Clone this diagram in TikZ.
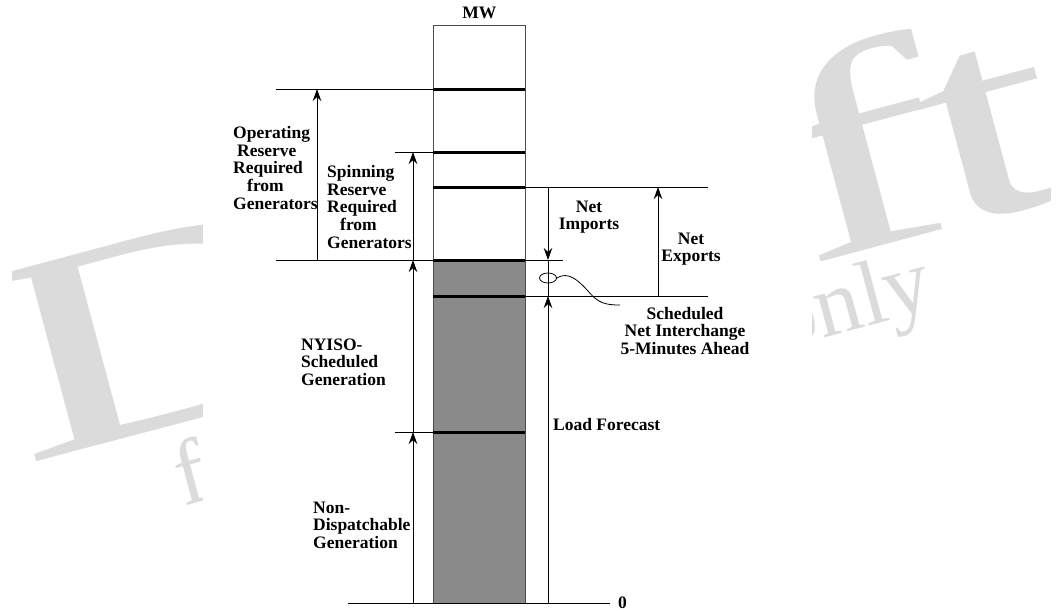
\documentclass[tikz,border=0pt]{standalone}
\usepackage{fontspec}
\setmainfont{Liberation Serif}
\usetikzlibrary{arrows.meta, positioning, shapes.geometric}
\definecolor{hatchgray}{gray}{0.54}
\definecolor{markgray}{gray}{0.86}

\begin{document}
\begin{tikzpicture}[
  x=1pt, y=-1pt,
  every node/.style={font=\fontsize{17.5}{17.6}\selectfont\bfseries, inner sep=0pt},
  lbl/.style={align=left, anchor=west},
  mid/.style={align=center},
  level/.style={line width=3pt},
  guide/.style={line width=0.8pt},
  arr/.style={-{Stealth[length=12pt, width=8.5pt]}, line width=0.8pt},
  bigmark/.style={text=markgray, font=\fontsize{290}{290}\selectfont, anchor=base west, rotate=15},
  smallmark/.style={text=markgray, font=\fontsize{92}{92}\selectfont, anchor=base west, rotate=15}
]
\useasboundingbox (0,0) rectangle (1057,611);

% watermark behind the chart
\begin{scope}
  \clip (12,0) rectangle (1050,611);
  \node[bigmark] (wmd) at (22,466) {\scalebox{1.75}[1]{D}};
  \node[bigmark] (wmft) at (800,268) {\scalebox{1.75}[1]{f\kern-12pt t}};
  \node[smallmark] (wmf) at (183,507) {f};
  \node[smallmark] (wmonly) at (778,350) {only};
\end{scope}
\fill[white] (203,0) rectangle (812,611);

% levels on the column
\foreach \name/\y in {op/89, sp/152, ni/187, lf/260, sn/296, nd/432, zero/603}
  \coordinate (\name) at (433,\y);
\coordinate (colbr) at (525,603);

% x positions of guides and arrows
\coordinate (xa) at (276,0);
\coordinate (xb) at (395,0);
\coordinate (xz) at (348,0);
\coordinate (xe) at (610,0);
\coordinate (xr) at (708,0);
\coordinate (xs) at (563,0);
\coordinate (xop) at (317,0);
\coordinate (xsp) at (413,0);
\coordinate (xin) at (548,0);
\coordinate (xex) at (658,0);
\coordinate (zend) at (xe |- zero);

% column
\fill[hatchgray] (lf) rectangle (colbr);
\node[draw=black!70, line width=0.8pt, minimum width=92pt, minimum height=578pt, anchor=north west] (col) at (433,25) {};
\foreach \lv in {op, sp, ni, lf, sn, nd}
  \draw[level] (\lv) -- (\lv -| colbr);

% guides
\draw[guide] (xa |- op) -- (op);
\draw[guide] (xb |- sp) -- (sp);
\draw[guide] (xa |- lf) -- (lf);
\draw[guide] (xb |- nd) -- (nd);
\draw[guide] (xz |- zero) -- (zend);
\draw[guide] (ni -| colbr) -- (xr |- ni);
\draw[guide] (sn -| colbr) -- (xr |- sn);
\draw[guide] (lf -| colbr) -- (xs |- lf);

% arrows
\draw[arr] (xop |- lf) -- (xop |- op);
\draw[arr] (xsp |- lf) -- (xsp |- sp);
\draw[arr] (xsp |- nd) -- (xsp |- lf);
\draw[arr] (xsp |- zero) -- (xsp |- nd);
\draw[arr] (xin |- ni) -- (xin |- lf);
\draw[arr] (xin |- zero) -- (xin |- sn);
\draw[guide] (xin |- lf) -- (xin |- sn);
\draw[arr] (xex |- sn) -- (xex |- ni);

% interchange marker
\node[draw, ellipse, line width=0.8pt, minimum width=17pt, minimum height=10pt] (sni) at (548,278) {};
\coordinate (lead) at (620,305);
\draw[guide] (sni.east) .. controls (568,271) and (578,280) .. (588,291)
  .. controls (598,303) and (605,305) .. (lead);

% labels
\node[above=6pt of col.north] (mw) {MW};
\node[lbl] (opres) at (233,168) {Operating\\\hspace*{4pt}Reserve\\Required\\\hspace*{14pt}from\\Generators};
\node[lbl] (spres) at (327,207) {Spinning\\Reserve\\Required\\\hspace*{13pt}from\\Generators};
\node[mid] (imp) at (589,217) {Net\\Imports};
\node[mid] (exp) at (691,249) {Net\\Exports};
\node[mid] (sched) at (685,331) {Scheduled\\Net Interchange\\5-Minutes Ahead};
\node[lbl] (load) at (553,425) {Load Forecast};
\node[lbl] (nyiso) at (301,362) {NYISO-\\Scheduled\\Generation};
\node[lbl] (nondisp) at (313,525) {Non-\\Dispatchable\\Generation};
\node[right=8pt of zend] (zlbl) {0};

\end{tikzpicture}
\end{document}
